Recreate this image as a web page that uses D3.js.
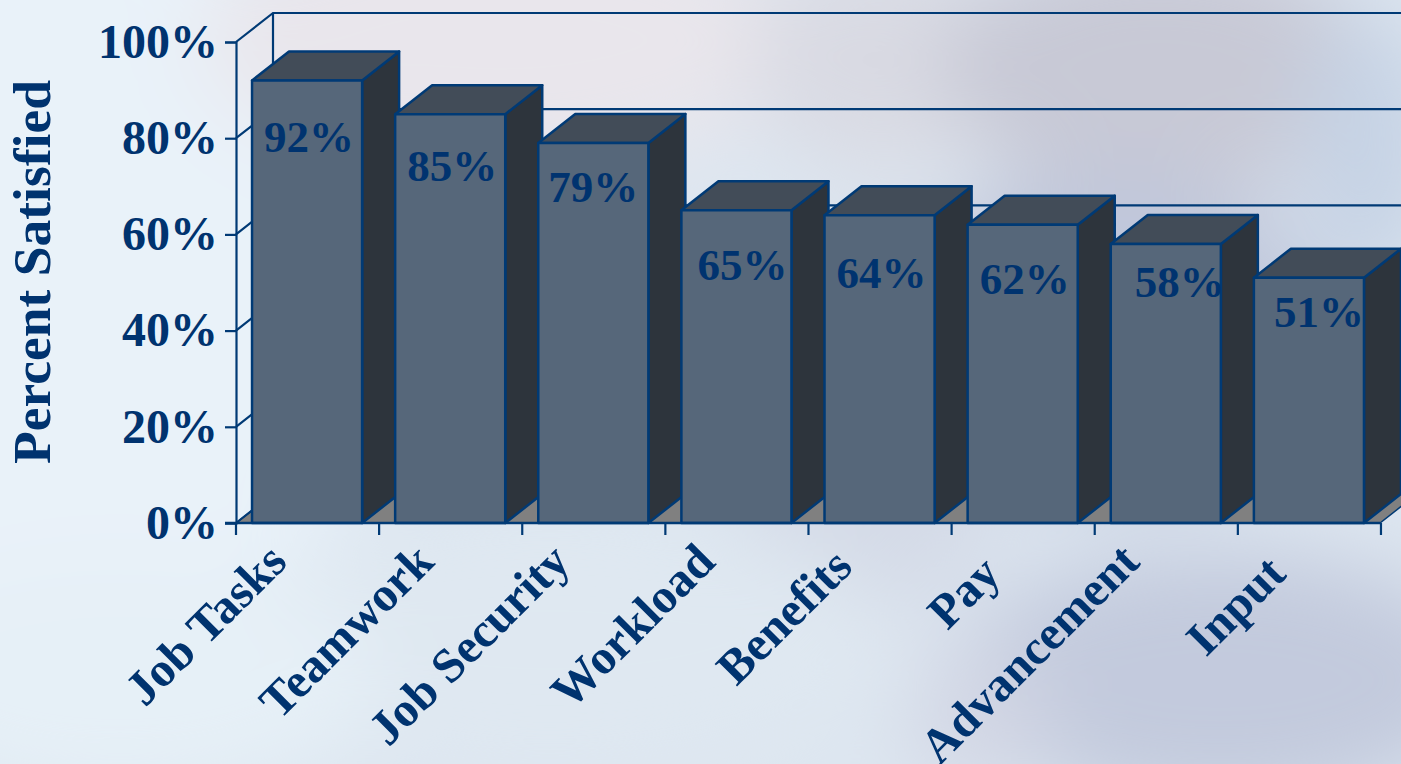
<!DOCTYPE html>
<html>
<head>
<meta charset="utf-8">
<script src="https://cdn.jsdelivr.net/npm/d3@7"></script>
<style>
    html, body { margin: 0; padding: 0; overflow: hidden; background: #dfe7f0; }
    text { font-family: "Liberation Serif", serif; font-weight: bold; fill: #00336f; }
</style>
</head>
<body>
<svg id="chart" width="1401" height="764"></svg>
<script>
// chart data
let categories = ["Job Tasks", "Teamwork", "Job Security", "Workload", "Benefits", "Pay", "Advancement", "Input"];
let satisfied = [92, 85, 79, 65, 64, 62, 58, 51];
let yTicks = [0, 20, 40, 60, 80, 100];

// hand placed labels in the original slide
let labelDx = [2, 2, 0, 6, 2, 2, 14, 10];
let labelDy = [72, 67, 59, 70, 73, 69, 53, 49];
let catDx = [37, 41, 34, 36, 30, 35, 31, 34];
let catDy = [41, 41, 41, 41, 46, 53, 41, 53];

// blurred cloud backdrop: cx, cy, rx, ry, colour
let clouds = [
    [80, 300, 300, 420, "#e9f2f9"],
    [500, 40, 300, 130, "#e9e6ec"],
    [880, 60, 130, 110, "#d9dae3"],
    [1160, 70, 220, 130, "#c8c9d6"],
    [1370, 150, 70, 140, "#c6d3e5"],
    [1110, 330, 220, 160, "#c0c7db"],
    [870, 430, 140, 190, "#d4dae7"],
    [1220, 680, 270, 130, "#c3cadd"],
    [980, 720, 70, 70, "#d2d6e4"],
    [550, 640, 340, 130, "#dfe8f1"],
    [120, 680, 260, 120, "#e6f0f7"]
];

let width = 1401, height = 764;
let svg = d3.select("#chart");
let depthX = 37, depthY = -29;

let x = d3.scaleBand()
    .domain(categories)
    .range([236, 1380])
    .paddingInner(0.2308)
    .paddingOuter(0.112);
let y = d3.scaleLinear()
    .domain([0, 100])
    .range([523, 42]);
let line = d3.line();

// Background
let defs = svg.append("defs");
defs.append("filter")
    .attr("id", "blur")
    .attr("x", "-50%").attr("y", "-50%")
    .attr("width", "200%").attr("height", "200%")
    .append("feGaussianBlur")
    .attr("stdDeviation", 42);
svg.append("rect")
    .attr("width", width)
    .attr("height", height)
    .attr("fill", "#dde6f0");
svg.append("g")
    .attr("filter", "url(#blur)")
    .selectAll("ellipse")
    .data(clouds)
    .enter().append("ellipse")
    .attr("cx", d => d[0])
    .attr("cy", d => d[1])
    .attr("rx", d => d[2])
    .attr("ry", d => d[3])
    .attr("fill", d => d[4]);

let axisColor = "#003a75";

// Floor
svg.append("path")
    .attr("d", line([[236, y(0)], [236 + depthX, y(0) + depthY], [1380 + depthX, y(0) + depthY], [1380, y(0)]]) + "Z")
    .attr("fill", "#808080")
    .attr("stroke", axisColor)
    .attr("stroke-width", 1.5);

// Back wall and gridlines
let grid = svg.append("g")
    .attr("fill", "none")
    .attr("stroke", axisColor)
    .attr("stroke-width", 2.2);
grid.selectAll("path")
    .data(yTicks)
    .enter().append("path")
    .attr("d", d => line([[236, y(d)], [236 + depthX, y(d) + depthY], [1401, y(d) + depthY]]));
grid.append("path")
    .attr("d", line([[236 + depthX, y(100) + depthY], [236 + depthX, y(0) + depthY]]));

// Bars
let bars = svg.selectAll(".bar")
    .data(categories)
    .enter().append("g")
    .attr("class", "bar")
    .attr("stroke", axisColor)
    .attr("stroke-width", 2.5)
    .attr("stroke-linejoin", "round");
let bw = x.bandwidth();
bars.append("path")
    .attr("fill", "#2d343c")
    .attr("d", (d, i) => {
        let r = x(d) + bw, t = y(satisfied[i]);
        return line([[r, y(0)], [r + depthX, y(0) + depthY], [r + depthX, t + depthY], [r, t]]) + "Z";
    });
bars.append("path")
    .attr("fill", "#424c58")
    .attr("d", (d, i) => {
        let l = x(d), t = y(satisfied[i]);
        return line([[l, t], [l + depthX, t + depthY], [l + bw + depthX, t + depthY], [l + bw, t]]) + "Z";
    });
bars.append("rect")
    .attr("fill", "#56677a")
    .attr("x", d => x(d))
    .attr("y", (d, i) => y(satisfied[i]))
    .attr("width", bw)
    .attr("height", (d, i) => y(0) - y(satisfied[i]));

// Data labels
svg.selectAll(".value")
    .data(categories)
    .enter().append("text")
    .attr("class", "value")
    .attr("x", (d, i) => x(d) + bw / 2 + labelDx[i])
    .attr("y", (d, i) => y(satisfied[i]) + labelDy[i])
    .attr("text-anchor", "middle")
    .attr("font-size", 45)
    .text((d, i) => satisfied[i] + "%");

// Y axis
let yAxis = d3.axisLeft(y)
    .tickValues(yTicks)
    .tickSize(11)
    .tickPadding(7)
    .tickFormat(d => d + "%");
let yg = svg.append("g")
    .attr("transform", "translate(236,0)")
    .call(yAxis);
yg.selectAll("path, line").attr("stroke", axisColor).attr("stroke-width", 2.2);
yg.selectAll("text")
    .attr("font-size", 48)
    .attr("font-family", null)
    .attr("dy", "0.32em");

// X axis, ticks sit between the categories
svg.append("path")
    .attr("d", line([[225, y(0)], [1380, y(0)]]))
    .attr("stroke", axisColor)
    .attr("stroke-width", 2.5);
let edges = d3.range(categories.length + 1).map(i => 236 + i * x.step());
svg.selectAll(".xtick")
    .data(edges)
    .enter().append("line")
    .attr("class", "xtick")
    .attr("x1", d => d).attr("x2", d => d)
    .attr("y1", y(0)).attr("y2", y(0) + 12)
    .attr("stroke", axisColor)
    .attr("stroke-width", 2.2);

svg.selectAll(".cat")
    .data(categories)
    .enter().append("text")
    .attr("class", "cat")
    .attr("text-anchor", "end")
    .attr("font-size", 48.5)
    .attr("transform", (d, i) => "translate(" + (x(d) + catDx[i]) + "," + (y(0) + catDy[i]) + ") rotate(-45)")
    .text(d => d);

// Y title
svg.append("text")
    .attr("text-anchor", "middle")
    .attr("font-size", 53.5)
    .attr("transform", "translate(50,272) rotate(-90)")
    .text("Percent Satisfied");
</script>
</body>
</html>
